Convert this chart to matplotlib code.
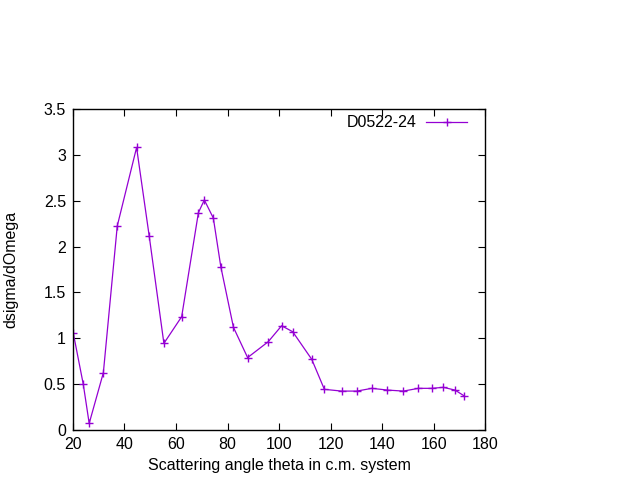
import matplotlib
matplotlib.use("Agg")
from matplotlib import pyplot as plt

# scattering angle (deg) and cross section
theta = [20.1, 24.0, 26.3, 31.8, 37.2, 44.7, 49.6, 55.3, 62.2, 68.7, 71.0,
         74.5, 77.4, 82.3, 87.8, 95.8, 101.0, 105.3, 112.7, 117.6, 124.3,
         130.2, 136.0, 142.1, 148.3, 154.1, 159.3, 163.8, 168.3, 171.8]
dsigma = [1.06, 0.50, 0.073, 0.625, 2.225, 3.08, 2.115, 0.945, 1.236, 2.37, 2.508,
          2.31, 1.78, 1.12, 0.79, 0.963, 1.137, 1.072, 0.771, 0.444, 0.425,
          0.425, 0.455, 0.436, 0.425, 0.455, 0.455, 0.466, 0.436, 0.374]

xticks = [20, 40, 60, 80, 100, 120, 140, 160, 180]
yticks = [0, 0.5, 1, 1.5, 2, 2.5, 3, 3.5]
ytick_labels = ['0', '0.5', '1', '1.5', '2', '2.5', '3', '3.5']

plt.rcParams['font.family'] = ['Liberation Sans', 'DejaVu Sans']
plt.rcParams['font.size'] = 11.5

fig = plt.figure(figsize=(6.4, 4.8), dpi=100)
ax = fig.add_axes([0.114, 0.104, 0.644, 0.669])

ax.plot(theta, dsigma, color='#9400d3', lw=0.9, marker='+', ms=6, mew=1,
        label='D0522-24')

ax.set_xlim(20, 180)
ax.set_ylim(0, 3.5)
ax.set_xticks(xticks)
ax.set_yticks(yticks)
ax.set_yticklabels(ytick_labels)
ax.tick_params(direction='in', top=True, right=True, length=5, width=0.8, pad=5)
for s in ax.spines.values():
    s.set_linewidth(1)

ax.set_xlabel('Scattering angle theta in c.m. system', labelpad=4)
ax.set_ylabel('dsigma/dOmega', labelpad=18)

ax.legend(loc='upper right', frameon=False, markerfirst=False,
          handlelength=2.6, borderaxespad=0.2, handletextpad=0.6,
          bbox_to_anchor=(0.98, 1.01))

fig.savefig('out.png', dpi=100)
